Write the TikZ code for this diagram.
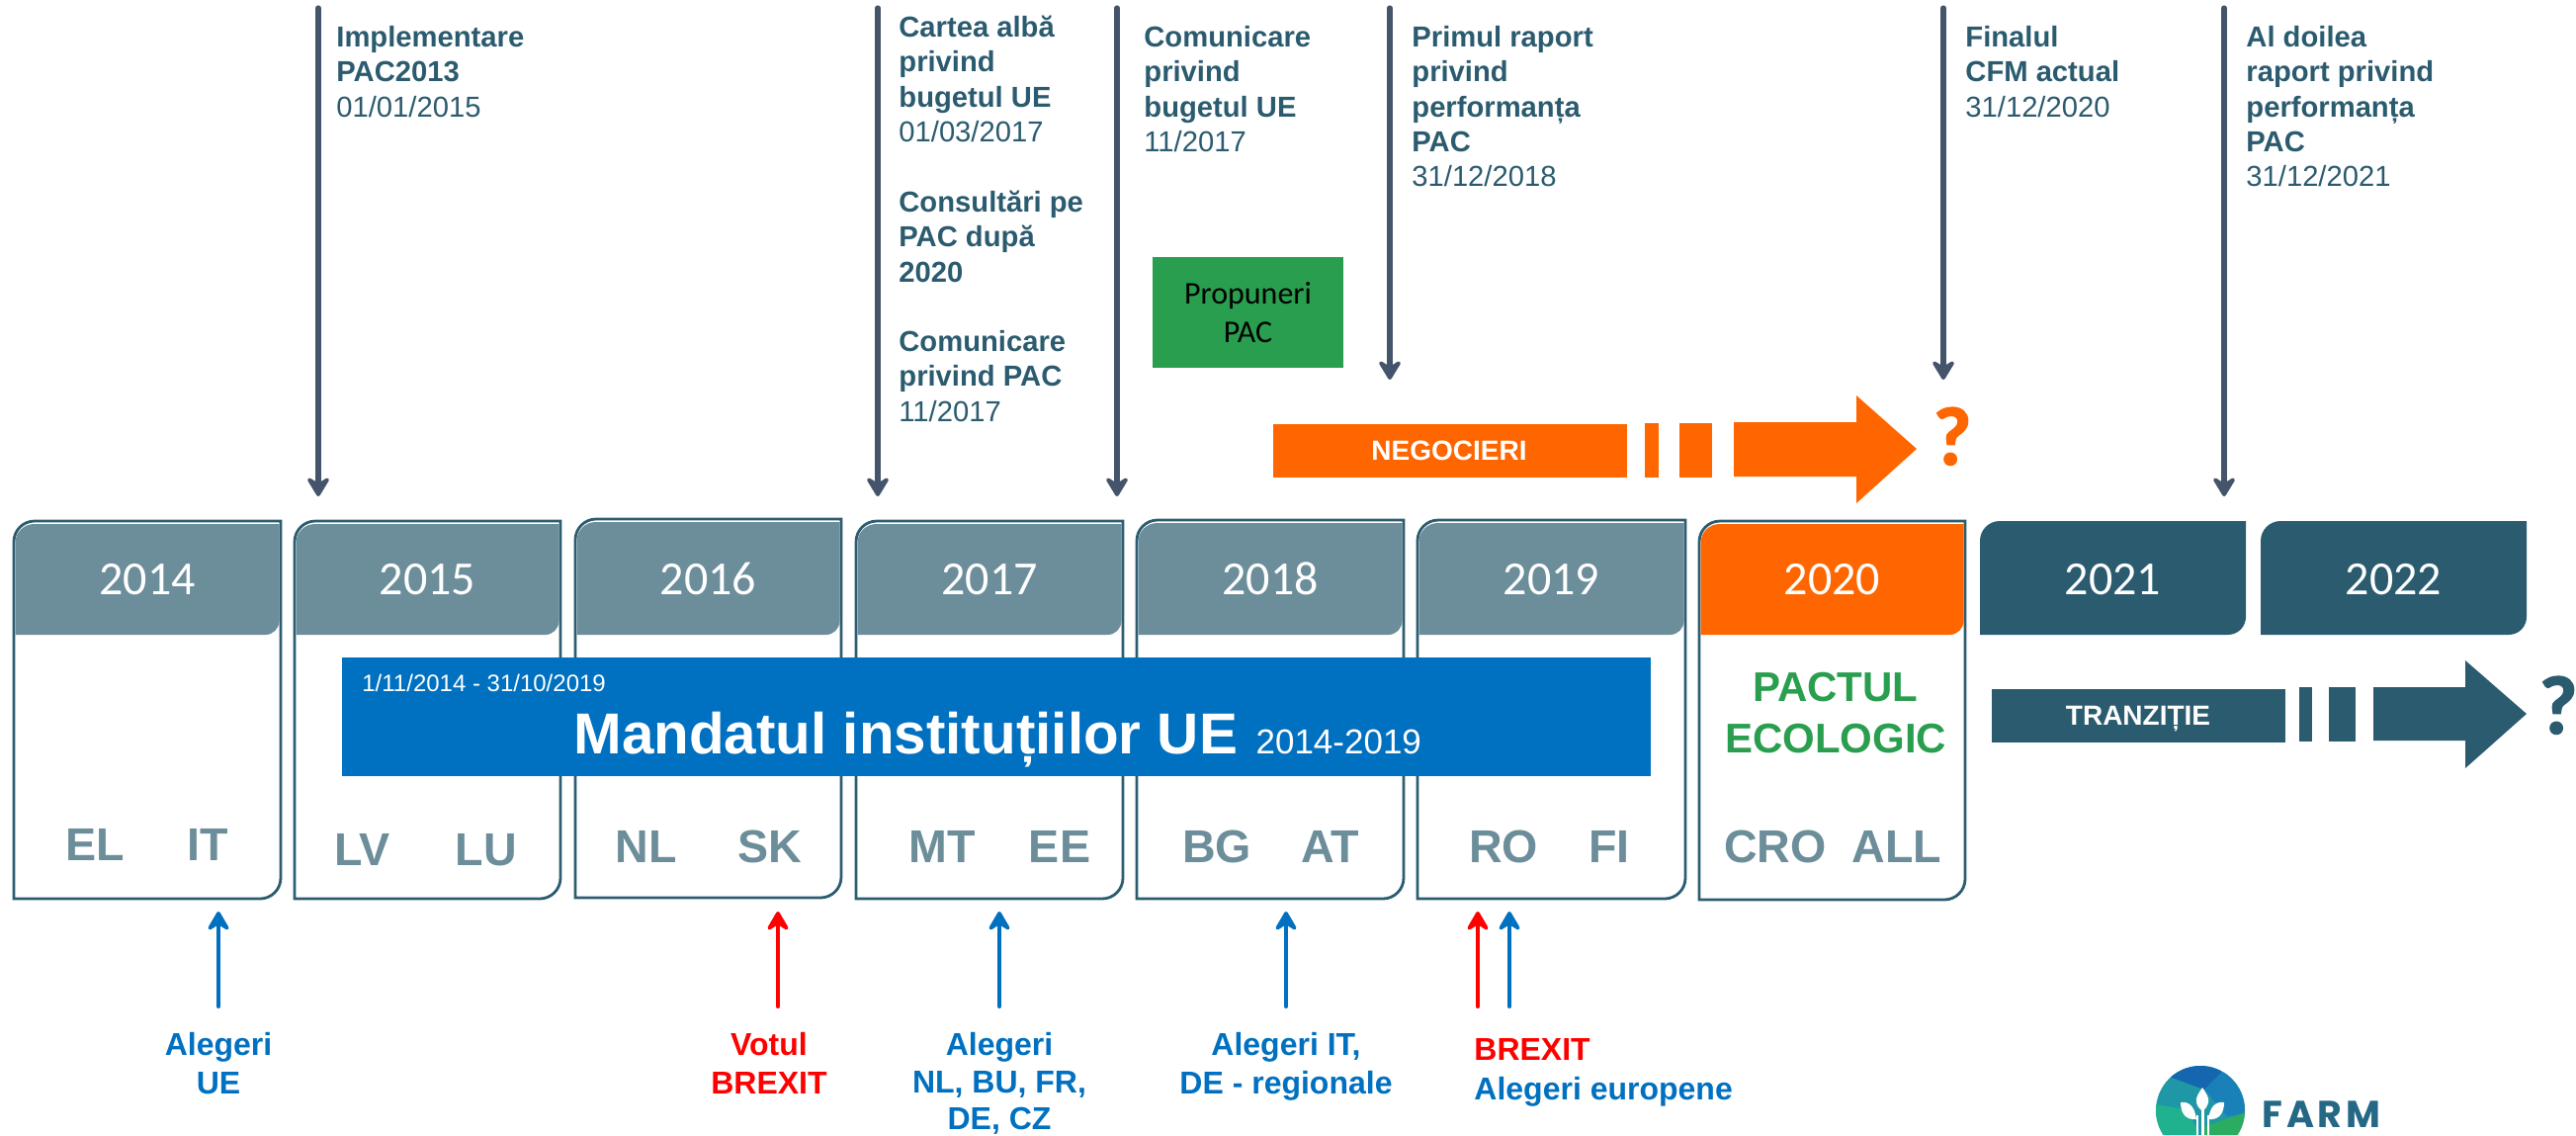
\documentclass[tikz,border=0pt]{standalone}
\usepackage{fontspec}
\setmainfont{Liberation Sans}
\newfontfamily\carl{Carlito}
\newfontfamily\qfont[BoldFeatures={FakeBold=1.6}]{Carlito}
\newfontfamily\farmfont[LetterSpace=10]{Poppins}
\usetikzlibrary{arrows.meta}
\definecolor{hdr}{HTML}{6C8D9A}
\definecolor{edge}{HTML}{2C5C70}
\definecolor{dark}{HTML}{2B5B6F}
\definecolor{orng}{HTML}{FF6600}
\definecolor{blu}{HTML}{0070C0}
\definecolor{grn}{HTML}{2A9E4F}
\definecolor{arr}{HTML}{44546A}
\definecolor{rd}{HTML}{FF0000}
\definecolor{logoA}{HTML}{1467AE}
\definecolor{logoB}{HTML}{1A80B8}
\definecolor{logoC}{HTML}{1F97A6}
\definecolor{logoD}{HTML}{20B28F}
\definecolor{logoE}{HTML}{2BAC60}
\definecolor{farmc}{HTML}{256885}
\newcommand\fs[2]{\fontsize{#1pt}{#2pt}\selectfont}
\newcommand\fl{\rule{0pt}{.8em}}
\tikzset{
  yearlabel/.style={anchor=base,text=white,inner sep=0pt,font=\carl\fs{24}{28}},
  code/.style={anchor=base,text=hdr,inner sep=0pt,font=\bfseries\fs{23.3}{27}},
  note/.style={anchor=north west,inner sep=0pt,align=left,text=dark,font=\fs{14.6}{17.6}},
  below label/.style={anchor=north,inner sep=0pt,align=center,font=\bfseries\fs{16}{19.5}},
  strip label/.style={anchor=base,inner sep=0pt,text=white,font=\bfseries\fs{14}{16}},
  downarrow/.style={draw=arr,line width=2.6pt,line cap=round,-{Stealth[length=12pt,width=14.5pt,inset=4.5pt,round]}},
  uparrow/.style={line width=2pt,line cap=round,-{Stealth[length=12pt,width=14pt,inset=4.5pt,round]}},
  qmark/.style={anchor=base,inner sep=0pt,font=\qfont\bfseries\fs{42}{46}}
}
% name, left, right, top, bottom, header colour, label
\newcommand\yearbox[7]{%
  \path[draw=edge,line width=1.4pt,fill=white] (#2,#5) [rounded corners=10.5pt] -- (#2,#4) [sharp corners] -- (#3,#4) [rounded corners=10.5pt] -- (#3,#5) [sharp corners] -- cycle;
  \fill[#6] (#2+1.5,642) [rounded corners=9.5pt] -- (#2+1.5,#4+3) [sharp corners] -- (#3-1.5,#4+3) [rounded corners=7pt] -- (#3-1.5,642) [sharp corners] -- cycle;
  \node[yearlabel] (#1) at ({(#2+#3)/2},601) {#7};
}
\newcommand\yeartab[4]{%
  \fill[dark] (#2,642) [rounded corners=10pt] -- (#2,527) [sharp corners] -- (#3,527) [rounded corners=9pt] -- (#3,642) [sharp corners] -- cycle;
  \node[yearlabel] (#1) at ({(#2+#3)/2},601) {#4};
}
\newcommand\conn[5]{%
  \coordinate (#1s) at (#2,#3);
  \coordinate (#1e) at (#2,#4);
  \draw[#5] (#1s) -- (#1e);
}
\begin{document}
\begin{tikzpicture}[x=.5pt,y=-.5pt]
\useasboundingbox (0,0) rectangle (2606,1148);
\fill[white] (0,0) rectangle (2606,1148);
% year boxes
\yearbox{y2014}{14}{284}{527}{909}{hdr}{2014}
\yearbox{y2015}{298}{567}{527}{909}{hdr}{2015}
\yearbox{y2016}{582}{851}{525}{908}{hdr}{2016}
\yearbox{y2017}{866}{1136}{527}{909}{hdr}{2017}
\yearbox{y2018}{1150}{1420}{526}{909}{hdr}{2018}
\yearbox{y2019}{1434}{1705}{526}{909}{hdr}{2019}
\yearbox{y2020}{1719}{1988}{527}{910}{orng}{2020}
\yeartab{y2021}{2003}{2272}{2021}
\yeartab{y2022}{2287}{2556}{2022}
% mandate bar
\fill[blu] (346,665) rectangle (1670,785);
\node[anchor=base west,inner sep=0pt,text=white,font=\fs{12}{14}] (mdate) at (366,699) {1/11/2014 - 31/10/2019};
\node[anchor=base west,inner sep=0pt,text=white,font=\bfseries\fs{29.2}{34}] (mandat) at (580,762) {Mandatul instituțiilor UE {\mdseries\fs{17.5}{20}\hspace{1.2pt}2014-2019}};
% country codes
\node[code] (c1) at (96,870) {EL};
\node[code] (c2) at (210,870) {IT};
\node[code] (c3) at (367,875) {LV};
\node[code] (c4) at (492,875) {LU};
\node[code] (c5) at (654,872) {NL};
\node[code] (c6) at (779,872) {SK};
\node[code] (c7) at (953,872) {MT};
\node[code] (c8) at (1072,872) {EE};
\node[code] (c9) at (1231,872) {BG};
\node[code] (c10) at (1346,872) {AT};
\node[code] (c11) at (1521,872) {RO};
\node[code] (c12) at (1628,872) {FI};
\node[code] (c13) at (1796,872) {CRO};
\node[code] (c14) at (1919,872) {ALL};
\node[anchor=base,inner sep=0pt,text=grn,font=\bfseries\fs{21}{25}] (pact1) at (1857,709) {PACTUL};
\node[anchor=base,inner sep=0pt,text=grn,font=\bfseries\fs{21}{25}] (pact2) at (1857,761) {ECOLOGIC};
% negotiation arrow
\fill[orng] (1288,429) rectangle (1646,483);
\fill[orng] (1664,428) rectangle (1678,483);
\fill[orng] (1699,428) rectangle (1732,483);
\fill[orng] (1754,427) -- (1878,427) -- (1878,400) -- (1939,454) -- (1878,509) -- (1878,482) -- (1754,482) -- cycle;
\node[strip label] (nego) at (1466,465) {NEGOCIERI};
\node[qmark,text=orng] (q1) at (1975,470) {?};
% transition arrow
\fill[dark] (2015,697) rectangle (2312,751);
\fill[dark] (2326,695) rectangle (2339,750);
\fill[dark] (2356,695) rectangle (2383,750);
\fill[dark] (2401,695) -- (2494,695) -- (2494,668) -- (2556,722) -- (2494,777) -- (2494,749) -- (2401,749) -- cycle;
\node[strip label] (tranz) at (2163,733) {TRANZIȚIE};
\node[qmark,text=dark] (q2) at (2588,742) {?};
% green box
\node[fill=grn,minimum width=96.5pt,minimum height=56pt,inner sep=0pt,align=center,font=\carl\fs{16}{19.5},text=black] (prop) at (1262.5,316) {Propuneri\\PAC};
% top notes
\node[note] (n1) at (340,24) {\fl\textbf{Implementare}\\\textbf{PAC2013}\\01/01/2015};
\node[note] (n2) at (909,14) {\fl\textbf{Cartea albă}\\\textbf{privind}\\\textbf{bugetul UE}\\01/03/2017};
\node[note] (n3) at (909,191) {\fl\textbf{Consultări pe}\\\textbf{PAC după}\\\textbf{2020}};
\node[note] (n4) at (909,332) {\fl\textbf{Comunicare}\\\textbf{privind PAC}\\11/2017};
\node[note] (n5) at (1157,24) {\fl\textbf{Comunicare}\\\textbf{privind}\\\textbf{bugetul UE}\\11/2017};
\node[note] (n6) at (1428,24) {\fl\textbf{Primul raport}\\\textbf{privind}\\\textbf{performanța}\\\textbf{PAC}\\31/12/2018};
\node[note] (n7) at (1988,24) {\fl\textbf{Finalul}\\\textbf{CFM actual}\\31/12/2020};
\node[note] (n8) at (2272,24) {\fl\textbf{Al doilea}\\\textbf{raport privind}\\\textbf{performanța}\\\textbf{PAC}\\31/12/2021};
% down arrows
\conn{d1}{322}{8}{502}{downarrow}
\conn{d2}{888}{8}{502}{downarrow}
\conn{d3}{1130}{8}{502}{downarrow}
\conn{d4}{1406}{8}{384}{downarrow}
\conn{d5}{1966}{8}{384}{downarrow}
\conn{d6}{2250}{8}{502}{downarrow}
% up arrows
\conn{u1}{221}{1018}{922}{uparrow,draw=blu}
\conn{u2}{787}{1018}{922}{uparrow,draw=rd}
\conn{u3}{1011}{1018}{922}{uparrow,draw=blu}
\conn{u4}{1301}{1018}{922}{uparrow,draw=blu}
\conn{u5}{1495}{1018}{922}{uparrow,draw=rd}
\conn{u6}{1527}{1018}{922}{uparrow,draw=blu}
% lower labels
\node[below label,text=blu] (l1) at (221,1041.4) {\fl Alegeri\\UE};
\node[below label,text=rd] (l2) at (778,1041.4) {\fl Votul\\BREXIT};
\node[below label,text=blu,font=\bfseries\fs{16}{18.8}] (l3) at (1011,1041.4) {\fl Alegeri\\NL, BU, FR,\\DE, CZ};
\node[below label,text=blu] (l4) at (1301,1041.4) {\fl Alegeri IT,\\DE - regionale};
\node[below label,anchor=north west,text=rd] (l5) at (1491,1046.4) {\fl BREXIT};
\node[below label,anchor=north west,text=blu] (l6) at (1491,1086.4) {\fl Alegeri europene};
% logo
\begin{scope}
\path[clip] (2226,1123) circle[radius=45];
\fill[logoC] (2170,1070) rectangle (2280,1148);
\fill[logoA] (2197,1090) -- (2230,1102) -- (2247,1085) -- (2247,1070) -- (2170,1070) -- (2170,1090) -- cycle;
\fill[logoB] (2230,1102) -- (2247,1085) -- (2280,1070) -- (2280,1125) -- (2253,1129) -- cycle;
\fill[logoD] (2175,1116) -- (2210,1122) -- (2222,1140) -- (2222,1148) -- (2175,1148) -- cycle;
\fill[logoE] (2228,1140) -- (2275,1124) -- (2275,1148) -- (2228,1148) -- cycle;
\fill[white] (2228,1100) .. controls (2224,1106) and (2221,1110) .. (2222,1115) .. controls (2223,1119) and (2225,1122) .. (2228,1124) .. controls (2231,1122) and (2233,1119) .. (2234,1115) .. controls (2235,1110) and (2232,1106) .. (2228,1100) -- cycle;
\fill[white] (2206,1115) .. controls (2214,1114) and (2220,1118) .. (2222,1132) .. controls (2213,1133) and (2206,1128) .. (2206,1115) -- cycle;
\fill[white] (2250,1115) .. controls (2242,1114) and (2236,1118) .. (2234,1132) .. controls (2243,1133) and (2250,1128) .. (2250,1115) -- cycle;
\draw[white,line width=1.2pt] (2223,1128) -- (2223,1148);
\draw[white,line width=1.2pt] (2234,1128) -- (2234,1148);
\draw[white,line width=1.6pt] (2228.5,1122) -- (2228.5,1148);
\end{scope}
\node[anchor=base west,inner sep=0pt,text=farmc,font=\farmfont\bfseries\fs{19}{22}] (farm) at (2288,1140) {FARM};
\end{tikzpicture}
\end{document}
